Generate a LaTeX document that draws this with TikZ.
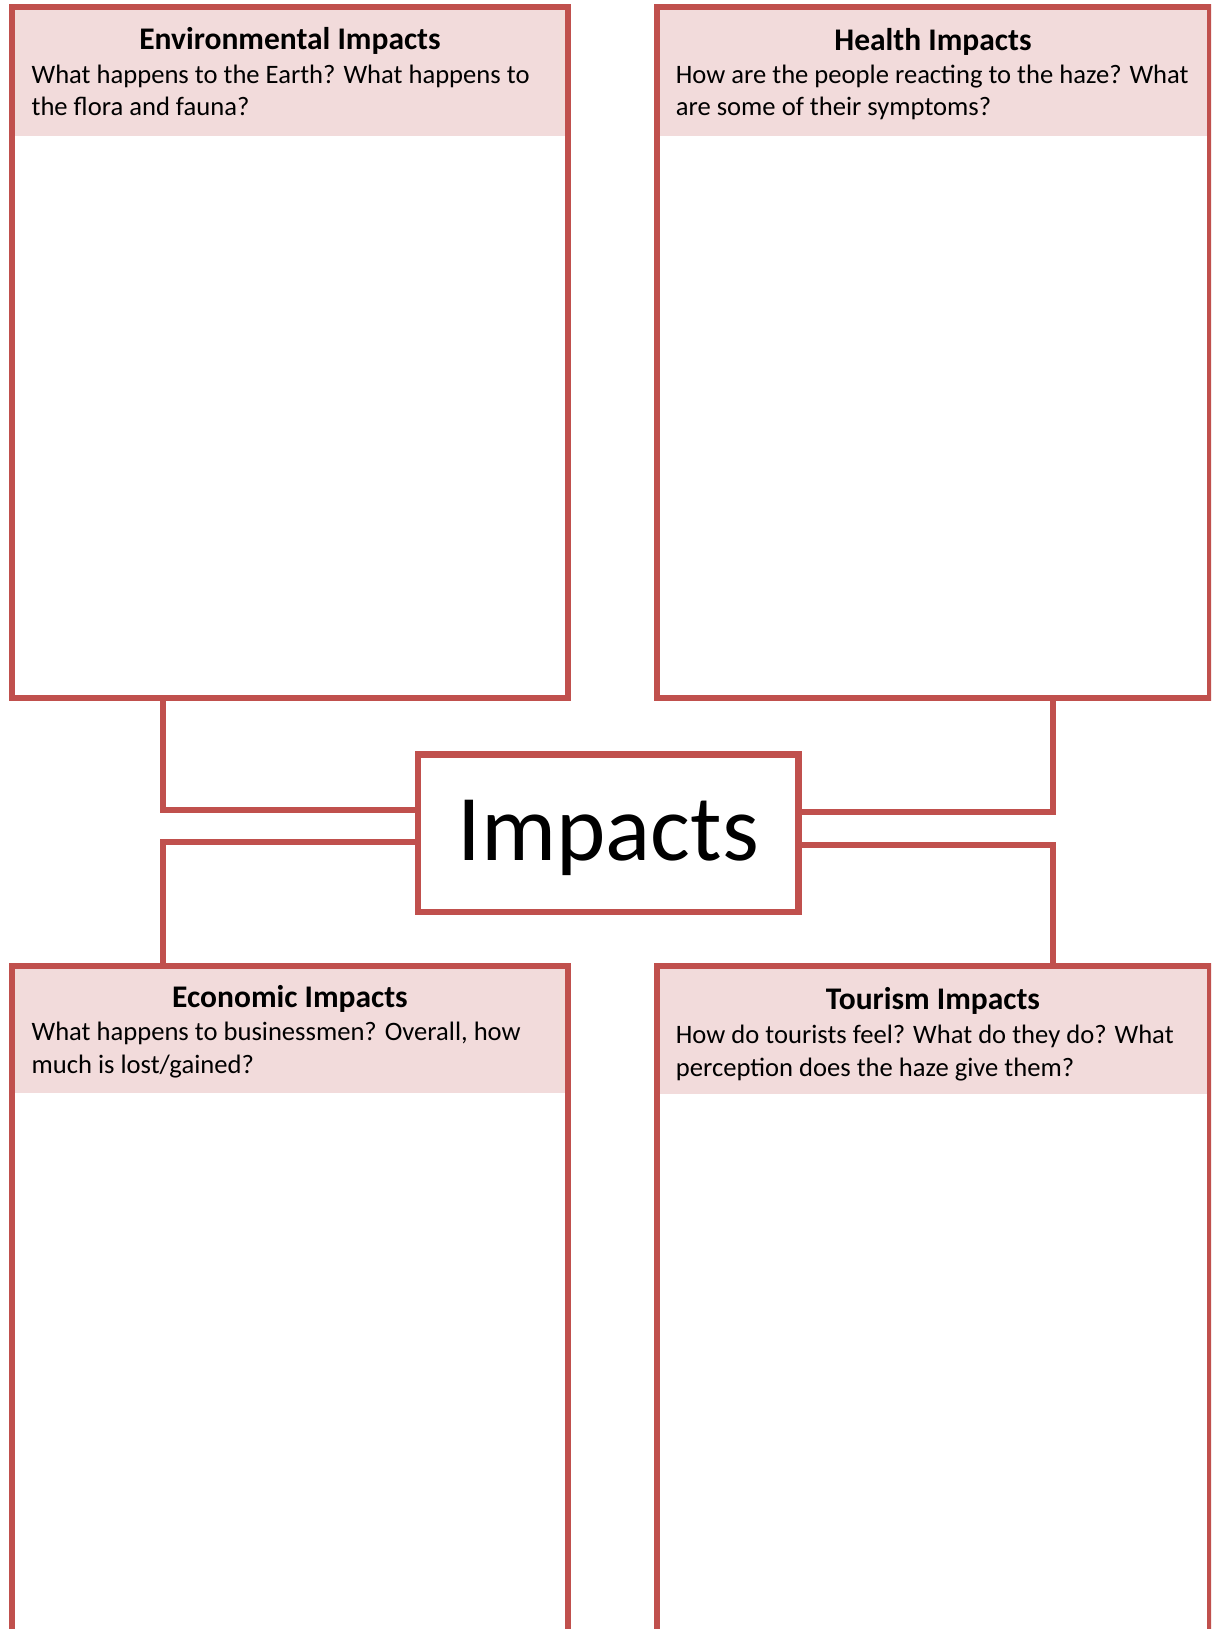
\documentclass[tikz,border=0pt]{standalone}
\usepackage{fontspec}
\setmainfont{Carlito}
\definecolor{bord}{HTML}{C0504D}
\definecolor{pinkf}{HTML}{F2DBDB}
\begin{document}
\begin{tikzpicture}[x=1pt,y=-1pt,
  frame/.style={draw=bord, line width=6.5pt, inner sep=0pt, outer sep=0pt, rectangle},
  head/.style={fill=pinkf, inner sep=0pt, outer sep=0pt, rectangle},
  ttl/.style={font=\fontsize{31.5}{38}\selectfont\bfseries, anchor=base, inner sep=0pt},
  body/.style={font=\fontsize{26.6}{32.5}\selectfont, anchor=base west, align=left, inner sep=0pt},
  link/.style={draw=bord, line width=6.5pt}]
\useasboundingbox (0,0) rectangle (1211,1629);
\clip (0,0) rectangle (1211,1629);
\fill[white] (0,0) rectangle (1211,1629);
% headers
\node[head, minimum width=556.1pt, minimum height=129pt] (envh) at (289.95,71.5) {};
\node[head, minimum width=553pt, minimum height=129pt] (healh) at (933.5,71.5) {};
\node[head, minimum width=556.1pt, minimum height=127pt] (econh) at (289.95,1029.5) {};
\node[head, minimum width=553pt, minimum height=128pt] (tourh) at (933.5,1030) {};
% frames
\node[frame, minimum width=556.1pt, minimum height=691pt] (env) at (289.95,352.5) {};
\node[frame, minimum width=553pt, minimum height=691pt] (heal) at (933.5,352.5) {};
\node[frame, minimum width=556.1pt, minimum height=734pt] (econ) at (289.95,1333) {};
\node[frame, minimum width=553pt, minimum height=734pt] (tour) at (933.5,1333) {};
% centre
\node[frame, fill=white, minimum width=380.5pt, minimum height=157.5pt] (ctr) at (608.25,833.25) {};
\node[font=\fontsize{94}{110}\selectfont, anchor=base, inner sep=0pt] (ctrt) at (608.25,860) {Impacts};
% connectors
\draw[link] ([xshift=151pt]env.south west) |- ([yshift=23.25pt]ctr.west);
\draw[link] ([yshift=-8.75pt]ctr.west) -| ([xshift=151pt]econ.north west);
\draw[link] ([yshift=21.25pt]ctr.east) -| ([xshift=396pt]heal.south west);
\draw[link] ([yshift=-11.75pt]ctr.east) -| ([xshift=396pt]tour.north west);
% texts
\node[ttl] (envt) at (290,50) {Environmental Impacts};
\node[body] (envb) at (31.4,116) {What happens to the Earth? What happens to\\the flora and fauna?};
\node[ttl] (healt) at (933,51) {Health Impacts};
\node[body] (healb) at (675.7,116) {How are the people reacting to the haze? What\\are some of their symptoms?};
\node[ttl] (econt) at (290,1007) {Economic Impacts};
\node[body] (econb) at (31.4,1073) {What happens to businessmen? Overall, how\\much is lost/gained?};
\node[ttl] (tourt) at (933,1009) {Tourism Impacts};
\node[body] (tourb) at (675.7,1076) {How do tourists feel? What do they do? What\\perception does the haze give them?};
\end{tikzpicture}
\end{document}
